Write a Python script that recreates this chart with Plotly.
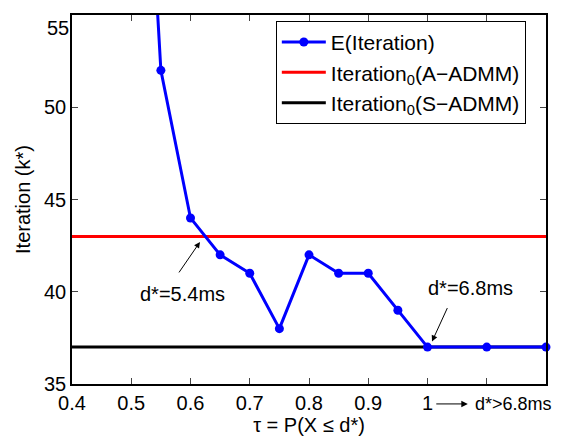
import plotly.graph_objects as go

tau = [0.5, 0.55, 0.6, 0.65, 0.7, 0.75, 0.8, 0.85, 0.9, 0.95, 1.0, 1.1, 1.2]
e_iter = [80, 52, 44, 42, 41, 38, 42, 41, 41, 39, 37, 37, 37]
iter0_a = 43
iter0_s = 37
x_range = [0.4, 1.2]
y_range = [35, 55]
tick_vals = [0.4, 0.5, 0.6, 0.7, 0.8, 0.9, 1.0, 1.1, 1.2]
tick_text = ["0.4", "0.5", "0.6", "0.7", "0.8", "0.9", "1", "", ""]
ytick_vals = [35, 40, 45, 50, 55]
ytick_text = ["35", "40", "45", "50", ""]  # top label drawn below as annotation

FONT = "Liberation Sans, Arial, sans-serif"

fig = go.Figure()
fig.add_trace(go.Scatter(
    x=x_range, y=[iter0_a, iter0_a], mode="lines",
    name="Iteration<sub>0</sub>(A\u2212ADMM)", legendrank=2,
    line=dict(color="#ff0000", width=3)))
fig.add_trace(go.Scatter(
    x=x_range, y=[iter0_s, iter0_s], mode="lines",
    name="Iteration<sub>0</sub>(S\u2212ADMM)", legendrank=3,
    line=dict(color="#000000", width=3)))
fig.add_trace(go.Scatter(
    x=tau, y=e_iter, mode="lines+markers", name="E(Iteration)", legendrank=1,
    line=dict(color="#0000ff", width=3),
    marker=dict(color="#0000ff", size=9), cliponaxis=False))

# page body has an 8px margin, so the figure is sized/offset to compensate
fig.update_layout(
    width=565, height=435,
    margin=dict(l=64, r=27, t=7, b=59, autoexpand=False),
    paper_bgcolor="white", plot_bgcolor="white",
    font=dict(family=FONT, size=20, color="black"),
    showlegend=True,
    legend=dict(x=0.43, y=0.984, xanchor="left", yanchor="top",
                bgcolor="white", bordercolor="black", borderwidth=1,
                font=dict(size=21), tracegroupgap=0, itemwidth=44),
    xaxis=dict(range=x_range, tickvals=tick_vals, ticktext=tick_text,
               ticks="inside", ticklen=6, mirror="ticks", showline=True,
               linecolor="black", linewidth=1.5, showgrid=False, zeroline=False,
               automargin=False,
               title=dict(text="\u03c4 = P(X \u2264 d*)", standoff=4,
                          font=dict(size=20))),
    yaxis=dict(range=y_range, tickvals=ytick_vals, ticktext=ytick_text,
               ticks="inside", ticklen=6, mirror="ticks", showline=True,
               linecolor="black", linewidth=1.5, showgrid=False, zeroline=False,
               automargin=False,
               title=dict(text="Iteration (k*)", standoff=8,
                          font=dict(size=20))),
)

fig.add_annotation(x=0, y=1, xref="paper", yref="paper", text=str(y_range[1]),
                   showarrow=False, xanchor="right", yanchor="top",
                   xshift=-1, font=dict(size=20))

fig.add_annotation(x=0.616, y=42.7, xref="x", yref="y", ax=-22, ay=32,
                   text="", showarrow=True, arrowhead=2, arrowsize=1.2,
                   arrowwidth=1, arrowcolor="black")
fig.add_annotation(x=0.587, y=39.9, xref="x", yref="y", text="d*=5.4ms",
                   showarrow=False, font=dict(size=20))
fig.add_annotation(x=1.0076, y=37.3, xref="x", yref="y", ax=16, ay=-35,
                   text="", showarrow=True, arrowhead=2, arrowsize=1.2,
                   arrowwidth=1, arrowcolor="black")
fig.add_annotation(x=1.072, y=40.2, xref="x", yref="y", text="d*=6.8ms",
                   showarrow=False, font=dict(size=20))
fig.add_annotation(x=1.068, y=-0.054, xref="x", yref="paper", ax=-33, ay=0,
                   text="", showarrow=True, arrowhead=2, arrowsize=1.3,
                   arrowwidth=1, arrowcolor="black")
fig.add_annotation(x=1.077, y=-0.054, xref="x", yref="paper", text="d*>6.8ms",
                   showarrow=False, xanchor="left", yanchor="middle",
                   font=dict(size=18))

fig.write_html("out.html")
